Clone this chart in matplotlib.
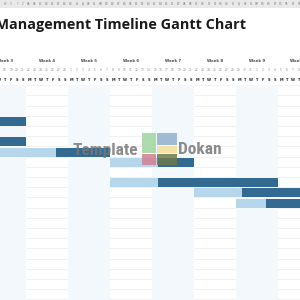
import numpy as np
import matplotlib
matplotlib.use("Agg")
import matplotlib.pyplot as plt
from matplotlib.patches import Rectangle

# Timeline: day 0 = Mon 1 Mar 2021 (first day of Week 5)
start_date = np.datetime64("2021-03-01")
first_day = -14
last_day = 42
week_numbers = [3, 4, 5, 6, 7, 8, 9, 10]
day_letters = ["M", "T", "W", "T", "F", "S", "S"]

# Task rows: row index, light (plan) start, dark start, end  (days from start_date)
task_rows = [0, 2, 3, 4, 6, 7, 8]
light_start = [-14, -14, -14, 7, 7, 21, 28]
dark_start = [-14, -14, -2, 15, 15, 29, 33]
task_end = [-7, -7, 7, 21, 35, 42, 42]

n_rows = 18

dark_col = "#336a92"
light_col = "#b6d6eb"
shade_col = "#f3f8fc"

def excel_col(n):
    s = ""
    while n > 0:
        n, r = divmod(n - 1, 26)
        s = chr(65 + r) + s
    return s

fig = plt.figure(figsize=(3, 3), dpi=100)
ax = fig.add_axes([0, 0, 1, 1])
ax.set_xlim(-11.33, 38.67)
ax.set_ylim(17.5, -11.91)
ax.axis("off")

grid_top = -3.55

# horizontal row lines
for r in np.arange(grid_top, n_rows, 1.0):
    ax.plot([first_day, last_day], [r, r], color="#ececec", lw=0.5, zorder=1)

# alternate week shading (odd weeks)
for i, wk in enumerate(week_numbers):
    w0 = first_day + 7 * i
    if wk % 2 == 1:
        ax.add_patch(Rectangle((w0, grid_top), 7, n_rows - grid_top,
                               color=shade_col, lw=0, zorder=2))
    ax.text(w0 + 3.5, -5.93, f"Week {wk}", ha="center", va="center",
            fontsize=2.8, fontweight="bold", color="#444444", zorder=5)

# day numbers and letters
days = np.arange(first_day, last_day)
for d in days:
    dt = (start_date + np.timedelta64(int(d), "D")).astype(object)
    ax.text(d + 0.5, -5.05, str(dt.day), ha="center", va="center",
            fontsize=2.1, color="#888888", zorder=5)
    ax.text(d + 0.5, -4.1, day_letters[int(d) % 7], ha="center", va="center",
            fontsize=2.6, fontweight="bold", color="#222222", zorder=5)

# excel column header strip
ax.add_patch(Rectangle((first_day, -12.5), last_day - first_day, 1.33,
                       color="#e9e9e9", lw=0, zorder=3))
for d in days:
    ax.text(d + 0.5, -11.52, excel_col(int(d) + 34), ha="center", va="center",
            fontsize=1.8, color="#888888", zorder=5)

# title
ax.text(29.6, -9.45, "Project Management Timeline Gantt Chart", ha="right",
        va="center", fontsize=10.4, fontweight="bold", family="Open Sans",
        color="#1a1a1a", zorder=5)

# gantt bars
for r, ls, ds, e in zip(task_rows, light_start, dark_start, task_end):
    if ds > ls:
        ax.barh(r, ds - ls, left=ls, height=0.88, color=light_col, lw=0, zorder=4)
    ax.barh(r, e - ds, left=ds, height=0.88, color=dark_col, lw=0, zorder=4)

# watermark
tr = ax.transAxes
ax.text(0.46, 0.5, "Template", transform=tr, ha="right", va="center",
        fontsize=12.5, fontweight="heavy", family="Roboto Condensed",
        color="#777777", alpha=0.85, zorder=6)
ax.text(0.593, 0.5, "Dokan", transform=tr, ha="left", va="center",
        fontsize=12.5, fontweight="heavy", family="Roboto Condensed",
        color="#777777", alpha=0.85, zorder=6)
logo = [
    (0.473, 0.49, 0.047, 0.067, "#9fd59f"),
    (0.523, 0.517, 0.067, 0.04, "#93afcc"),
    (0.523, 0.49, 0.067, 0.024, "#f2df9a"),
    (0.473, 0.45, 0.047, 0.037, "#d47f92"),
    (0.523, 0.45, 0.067, 0.037, "#6f7a4c"),
]
for x, y, w, h, c in logo:
    ax.add_patch(Rectangle((x, y), w, h, transform=tr, color=c,
                           alpha=0.85, lw=0, zorder=6))

fig.savefig("out.png", dpi=100, facecolor="white")
